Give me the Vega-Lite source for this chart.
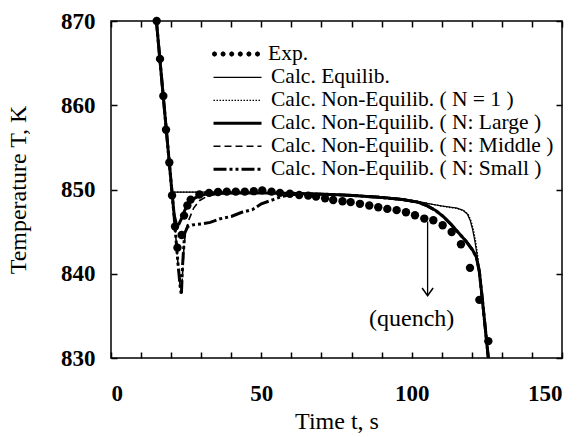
{
  "$schema": "https://vega.github.io/schema/vega-lite/v6.json",
  "width": 451,
  "height": 337,
  "autosize": "none",
  "padding": {"left": 111, "top": 21, "right": 20, "bottom": 79},
  "background": "white",
  "config": {
    "view": {"stroke": "black", "strokeWidth": 1.5},
    "font": "Liberation Serif",
    "axis": {
      "domain": false, "grid": false, "tickColor": "black", "tickWidth": 1.5, "tickSize": -6,
      "labelFont": "Liberation Serif", "labelFontWeight": "bold", "labelFontSize": 23, "labelColor": "black",
      "titleFont": "Liberation Serif", "titleFontWeight": "normal", "titleFontSize": 24, "titleColor": "black"
    },
    "legend": {
      "orient": "none", "legendX": 101, "padding": 0, "rowPadding": 1, "clipHeight": 20,
      "labelFont": "Liberation Serif", "labelFontSize": 21.5, "labelColor": "black", "labelLimit": 400,
      "symbolSize": 2304, "symbolOffset": 0, "labelOffset": 8, "title": null,
      "symbolFillColor": "black", "symbolStrokeColor": "black", "symbolOpacity": 1
    }
  },
  "datasets": {
    "calc": [
      {"series": "Calc. Equilib.", "t": 15.0, "T": 870.4},
      {"series": "Calc. Equilib.", "t": 20.3, "T": 849.7},
      {"series": "Calc. Equilib.", "t": 30, "T": 849.7},
      {"series": "Calc. Equilib.", "t": 45, "T": 849.65},
      {"series": "Calc. Equilib.", "t": 60, "T": 849.6},
      {"series": "Calc. Equilib.", "t": 70, "T": 849.5},
      {"series": "Calc. Equilib.", "t": 80, "T": 849.35},
      {"series": "Calc. Equilib.", "t": 90, "T": 849.15},
      {"series": "Calc. Equilib.", "t": 97, "T": 848.9},
      {"series": "Calc. Equilib.", "t": 102, "T": 848.6},
      {"series": "Calc. Equilib.", "t": 106, "T": 848.3},
      {"series": "Calc. Equilib.", "t": 109, "T": 848.1},
      {"series": "Calc. Equilib.", "t": 112, "T": 847.95},
      {"series": "Calc. Equilib.", "t": 115, "T": 847.8},
      {"series": "Calc. Equilib.", "t": 117, "T": 847.55},
      {"series": "Calc. Equilib.", "t": 118.5, "T": 847.1},
      {"series": "Calc. Equilib.", "t": 119.5, "T": 846.3},
      {"series": "Calc. Equilib.", "t": 120.3, "T": 845.2},
      {"series": "Calc. Equilib.", "t": 121, "T": 843.9},
      {"series": "Calc. Equilib.", "t": 121.7, "T": 842.4},
      {"series": "Calc. Equilib.", "t": 122.3, "T": 840.3},
      {"series": "Calc. Equilib.", "t": 123.3, "T": 837},
      {"series": "Calc. Equilib.", "t": 124.3, "T": 833.5},
      {"series": "Calc. Equilib.", "t": 125.3, "T": 830},
      {"series": "Calc. Equilib.", "t": 125.8, "T": 828.3},
      {"series": "Calc. Non-Equilib. ( N = 1 )", "t": 15.0, "T": 870.4},
      {"series": "Calc. Non-Equilib. ( N = 1 )", "t": 20.3, "T": 849.7},
      {"series": "Calc. Non-Equilib. ( N = 1 )", "t": 30, "T": 849.7},
      {"series": "Calc. Non-Equilib. ( N = 1 )", "t": 45, "T": 849.65},
      {"series": "Calc. Non-Equilib. ( N = 1 )", "t": 60, "T": 849.6},
      {"series": "Calc. Non-Equilib. ( N = 1 )", "t": 70, "T": 849.5},
      {"series": "Calc. Non-Equilib. ( N = 1 )", "t": 80, "T": 849.35},
      {"series": "Calc. Non-Equilib. ( N = 1 )", "t": 90, "T": 849.15},
      {"series": "Calc. Non-Equilib. ( N = 1 )", "t": 97, "T": 848.9},
      {"series": "Calc. Non-Equilib. ( N = 1 )", "t": 102, "T": 848.6},
      {"series": "Calc. Non-Equilib. ( N = 1 )", "t": 106, "T": 848.3},
      {"series": "Calc. Non-Equilib. ( N = 1 )", "t": 109, "T": 848.1},
      {"series": "Calc. Non-Equilib. ( N = 1 )", "t": 112, "T": 847.9},
      {"series": "Calc. Non-Equilib. ( N = 1 )", "t": 115, "T": 847.75},
      {"series": "Calc. Non-Equilib. ( N = 1 )", "t": 117.3, "T": 847.5},
      {"series": "Calc. Non-Equilib. ( N = 1 )", "t": 118.8, "T": 847.05},
      {"series": "Calc. Non-Equilib. ( N = 1 )", "t": 119.8, "T": 846.2},
      {"series": "Calc. Non-Equilib. ( N = 1 )", "t": 120.6, "T": 845.1},
      {"series": "Calc. Non-Equilib. ( N = 1 )", "t": 121.3, "T": 843.8},
      {"series": "Calc. Non-Equilib. ( N = 1 )", "t": 121.9, "T": 842.3},
      {"series": "Calc. Non-Equilib. ( N = 1 )", "t": 122.5, "T": 840.2},
      {"series": "Calc. Non-Equilib. ( N = 1 )", "t": 123.4, "T": 837},
      {"series": "Calc. Non-Equilib. ( N = 1 )", "t": 124.4, "T": 833.5},
      {"series": "Calc. Non-Equilib. ( N = 1 )", "t": 125.4, "T": 830},
      {"series": "Calc. Non-Equilib. ( N = 1 )", "t": 125.9, "T": 828.3},
      {"series": "Calc. Non-Equilib. ( N: Large )", "t": 15.0, "T": 870.4},
      {"series": "Calc. Non-Equilib. ( N: Large )", "t": 20.2, "T": 850},
      {"series": "Calc. Non-Equilib. ( N: Large )", "t": 21, "T": 847},
      {"series": "Calc. Non-Equilib. ( N: Large )", "t": 21.8, "T": 845.8},
      {"series": "Calc. Non-Equilib. ( N: Large )", "t": 22.6, "T": 845.9},
      {"series": "Calc. Non-Equilib. ( N: Large )", "t": 23.5, "T": 846.6},
      {"series": "Calc. Non-Equilib. ( N: Large )", "t": 24.5, "T": 847.5},
      {"series": "Calc. Non-Equilib. ( N: Large )", "t": 25.5, "T": 848.2},
      {"series": "Calc. Non-Equilib. ( N: Large )", "t": 27, "T": 848.8},
      {"series": "Calc. Non-Equilib. ( N: Large )", "t": 29, "T": 849.2},
      {"series": "Calc. Non-Equilib. ( N: Large )", "t": 32, "T": 849.5},
      {"series": "Calc. Non-Equilib. ( N: Large )", "t": 40, "T": 849.6},
      {"series": "Calc. Non-Equilib. ( N: Large )", "t": 60, "T": 849.55},
      {"series": "Calc. Non-Equilib. ( N: Large )", "t": 70, "T": 849.45},
      {"series": "Calc. Non-Equilib. ( N: Large )", "t": 80, "T": 849.3},
      {"series": "Calc. Non-Equilib. ( N: Large )", "t": 90, "T": 849.05},
      {"series": "Calc. Non-Equilib. ( N: Large )", "t": 97, "T": 848.8},
      {"series": "Calc. Non-Equilib. ( N: Large )", "t": 102, "T": 848.5},
      {"series": "Calc. Non-Equilib. ( N: Large )", "t": 105, "T": 848.1},
      {"series": "Calc. Non-Equilib. ( N: Large )", "t": 108, "T": 847.5},
      {"series": "Calc. Non-Equilib. ( N: Large )", "t": 110.5, "T": 846.8},
      {"series": "Calc. Non-Equilib. ( N: Large )", "t": 113, "T": 845.9},
      {"series": "Calc. Non-Equilib. ( N: Large )", "t": 115.5, "T": 844.9},
      {"series": "Calc. Non-Equilib. ( N: Large )", "t": 118, "T": 843.9},
      {"series": "Calc. Non-Equilib. ( N: Large )", "t": 120.3, "T": 842.8},
      {"series": "Calc. Non-Equilib. ( N: Large )", "t": 121.5, "T": 842},
      {"series": "Calc. Non-Equilib. ( N: Large )", "t": 122.5, "T": 840.3},
      {"series": "Calc. Non-Equilib. ( N: Large )", "t": 123.5, "T": 837},
      {"series": "Calc. Non-Equilib. ( N: Large )", "t": 124.5, "T": 833.5},
      {"series": "Calc. Non-Equilib. ( N: Large )", "t": 125.5, "T": 830},
      {"series": "Calc. Non-Equilib. ( N: Large )", "t": 126, "T": 828.3},
      {"series": "Calc. Non-Equilib. ( N: Middle )", "t": 15.0, "T": 870.4},
      {"series": "Calc. Non-Equilib. ( N: Middle )", "t": 20.2, "T": 850},
      {"series": "Calc. Non-Equilib. ( N: Middle )", "t": 21.2, "T": 846},
      {"series": "Calc. Non-Equilib. ( N: Middle )", "t": 22.2, "T": 841.5},
      {"series": "Calc. Non-Equilib. ( N: Middle )", "t": 23, "T": 838.5},
      {"series": "Calc. Non-Equilib. ( N: Middle )", "t": 23.4, "T": 837.6},
      {"series": "Calc. Non-Equilib. ( N: Middle )", "t": 23.8, "T": 840},
      {"series": "Calc. Non-Equilib. ( N: Middle )", "t": 24.3, "T": 843.5},
      {"series": "Calc. Non-Equilib. ( N: Middle )", "t": 25, "T": 845.3},
      {"series": "Calc. Non-Equilib. ( N: Middle )", "t": 26, "T": 846.5},
      {"series": "Calc. Non-Equilib. ( N: Middle )", "t": 27.5, "T": 847.8},
      {"series": "Calc. Non-Equilib. ( N: Middle )", "t": 29.5, "T": 848.7},
      {"series": "Calc. Non-Equilib. ( N: Middle )", "t": 32, "T": 849.2},
      {"series": "Calc. Non-Equilib. ( N: Middle )", "t": 36, "T": 849.5},
      {"series": "Calc. Non-Equilib. ( N: Middle )", "t": 45, "T": 849.6},
      {"series": "Calc. Non-Equilib. ( N: Middle )", "t": 60, "T": 849.55},
      {"series": "Calc. Non-Equilib. ( N: Middle )", "t": 70, "T": 849.45},
      {"series": "Calc. Non-Equilib. ( N: Middle )", "t": 80, "T": 849.3},
      {"series": "Calc. Non-Equilib. ( N: Middle )", "t": 90, "T": 849.05},
      {"series": "Calc. Non-Equilib. ( N: Middle )", "t": 97, "T": 848.8},
      {"series": "Calc. Non-Equilib. ( N: Middle )", "t": 102, "T": 848.5},
      {"series": "Calc. Non-Equilib. ( N: Middle )", "t": 105, "T": 848.1},
      {"series": "Calc. Non-Equilib. ( N: Middle )", "t": 108, "T": 847.5},
      {"series": "Calc. Non-Equilib. ( N: Middle )", "t": 110.5, "T": 846.8},
      {"series": "Calc. Non-Equilib. ( N: Middle )", "t": 113, "T": 845.9},
      {"series": "Calc. Non-Equilib. ( N: Middle )", "t": 115.5, "T": 844.9},
      {"series": "Calc. Non-Equilib. ( N: Middle )", "t": 118, "T": 843.9},
      {"series": "Calc. Non-Equilib. ( N: Middle )", "t": 120.3, "T": 842.8},
      {"series": "Calc. Non-Equilib. ( N: Middle )", "t": 121.5, "T": 842},
      {"series": "Calc. Non-Equilib. ( N: Middle )", "t": 122.5, "T": 840.3},
      {"series": "Calc. Non-Equilib. ( N: Middle )", "t": 123.5, "T": 837},
      {"series": "Calc. Non-Equilib. ( N: Middle )", "t": 124.5, "T": 833.5},
      {"series": "Calc. Non-Equilib. ( N: Middle )", "t": 125.5, "T": 830},
      {"series": "Calc. Non-Equilib. ( N: Middle )", "t": 126, "T": 828.3},
      {"series": "Calc. Non-Equilib. ( N: Small )", "t": 15.0, "T": 870.4},
      {"series": "Calc. Non-Equilib. ( N: Small )", "t": 20.2, "T": 850},
      {"series": "Calc. Non-Equilib. ( N: Small )", "t": 21.2, "T": 846},
      {"series": "Calc. Non-Equilib. ( N: Small )", "t": 22.2, "T": 841.5},
      {"series": "Calc. Non-Equilib. ( N: Small )", "t": 23, "T": 838.5},
      {"series": "Calc. Non-Equilib. ( N: Small )", "t": 23.4, "T": 837.5},
      {"series": "Calc. Non-Equilib. ( N: Small )", "t": 23.8, "T": 841},
      {"series": "Calc. Non-Equilib. ( N: Small )", "t": 24.5, "T": 844.8},
      {"series": "Calc. Non-Equilib. ( N: Small )", "t": 25.5, "T": 845.6},
      {"series": "Calc. Non-Equilib. ( N: Small )", "t": 27, "T": 845.8},
      {"series": "Calc. Non-Equilib. ( N: Small )", "t": 30, "T": 845.9},
      {"series": "Calc. Non-Equilib. ( N: Small )", "t": 33, "T": 846.1},
      {"series": "Calc. Non-Equilib. ( N: Small )", "t": 36, "T": 846.5},
      {"series": "Calc. Non-Equilib. ( N: Small )", "t": 40, "T": 846.8},
      {"series": "Calc. Non-Equilib. ( N: Small )", "t": 43.5, "T": 847.3},
      {"series": "Calc. Non-Equilib. ( N: Small )", "t": 47, "T": 847.6},
      {"series": "Calc. Non-Equilib. ( N: Small )", "t": 50, "T": 848.3},
      {"series": "Calc. Non-Equilib. ( N: Small )", "t": 54, "T": 848.8},
      {"series": "Calc. Non-Equilib. ( N: Small )", "t": 57, "T": 849.2},
      {"series": "Calc. Non-Equilib. ( N: Small )", "t": 60, "T": 849.4},
      {"series": "Calc. Non-Equilib. ( N: Small )", "t": 70, "T": 849.45},
      {"series": "Calc. Non-Equilib. ( N: Small )", "t": 80, "T": 849.3},
      {"series": "Calc. Non-Equilib. ( N: Small )", "t": 90, "T": 849.05},
      {"series": "Calc. Non-Equilib. ( N: Small )", "t": 97, "T": 848.8},
      {"series": "Calc. Non-Equilib. ( N: Small )", "t": 102, "T": 848.5},
      {"series": "Calc. Non-Equilib. ( N: Small )", "t": 105, "T": 848.1},
      {"series": "Calc. Non-Equilib. ( N: Small )", "t": 108, "T": 847.5},
      {"series": "Calc. Non-Equilib. ( N: Small )", "t": 110.5, "T": 846.8},
      {"series": "Calc. Non-Equilib. ( N: Small )", "t": 113, "T": 845.9},
      {"series": "Calc. Non-Equilib. ( N: Small )", "t": 115.5, "T": 844.9},
      {"series": "Calc. Non-Equilib. ( N: Small )", "t": 118, "T": 843.9},
      {"series": "Calc. Non-Equilib. ( N: Small )", "t": 120.3, "T": 842.8},
      {"series": "Calc. Non-Equilib. ( N: Small )", "t": 121.5, "T": 842},
      {"series": "Calc. Non-Equilib. ( N: Small )", "t": 122.5, "T": 840.3},
      {"series": "Calc. Non-Equilib. ( N: Small )", "t": 123.5, "T": 837},
      {"series": "Calc. Non-Equilib. ( N: Small )", "t": 124.5, "T": 833.5},
      {"series": "Calc. Non-Equilib. ( N: Small )", "t": 125.5, "T": 830},
      {"series": "Calc. Non-Equilib. ( N: Small )", "t": 126, "T": 828.3}
    ],
    "exp": [
      {"t": 15.2, "T": 870}, {"t": 16.3, "T": 865.5}, {"t": 17.4, "T": 861.1}, {"t": 18.3, "T": 857.1},
      {"t": 19.4, "T": 853.2}, {"t": 20.3, "T": 849.3}, {"t": 21.3, "T": 845.6}, {"t": 22.1, "T": 843.1},
      {"t": 23.5, "T": 844.6}, {"t": 24.3, "T": 846.9}, {"t": 25.4, "T": 848.1}, {"t": 26.5, "T": 848.8},
      {"t": 29.4, "T": 849.4}, {"t": 32.6, "T": 849.6}, {"t": 35.6, "T": 849.7}, {"t": 38.5, "T": 849.75},
      {"t": 41.5, "T": 849.75}, {"t": 44.5, "T": 849.75}, {"t": 47.5, "T": 849.8}, {"t": 50.3, "T": 849.9},
      {"t": 53.4, "T": 849.75}, {"t": 56.2, "T": 849.6}, {"t": 59.5, "T": 849.5}, {"t": 62.6, "T": 849.35},
      {"t": 65.6, "T": 849.27}, {"t": 68.2, "T": 849.15}, {"t": 71.2, "T": 848.95}, {"t": 73.9, "T": 848.75},
      {"t": 77.0, "T": 848.6}, {"t": 79.7, "T": 848.5}, {"t": 82.8, "T": 848.3}, {"t": 85.9, "T": 848.1},
      {"t": 88.9, "T": 847.9}, {"t": 91.9, "T": 847.7}, {"t": 95.0, "T": 847.55}, {"t": 98.1, "T": 847.3},
      {"t": 101.1, "T": 846.95}, {"t": 104.2, "T": 846.55}, {"t": 107.2, "T": 846.35}, {"t": 110.3, "T": 845.75},
      {"t": 113.3, "T": 844.95}, {"t": 116.4, "T": 843.5}, {"t": 119.4, "T": 840.7}, {"t": 122.5, "T": 836.9},
      {"t": 125.5, "T": 832.0}
    ],
    "expKey": [{"kind": "Exp."}],
    "arrow": [{"t": 105.3, "T0": 846.2, "T1": 837.4}],
    "note": [{"t": 100, "T": 834.6, "label": "(quench)"}]
  },
  "resolve": {"axis": {"x": "independent", "y": "independent"}},
  "layer": [
    {
      "data": {"name": "expKey"},
      "mark": {"type": "point", "opacity": 0, "filled": true, "color": "black"},
      "encoding": {
        "shape": {
          "field": "kind", "type": "nominal",
          "scale": {
            "domain": ["Exp."],
            "range": [
              "M-0.786,0L-0.818,0.078L-0.896,0.11L-0.974,0.078L-1.006,0L-0.974,-0.078L-0.896,-0.11L-0.818,-0.078ZM-0.428,0L-0.46,0.078L-0.538,0.11L-0.616,0.078L-0.648,0L-0.616,-0.078L-0.538,-0.11L-0.46,-0.078ZM-0.069,0L-0.101,0.078L-0.179,0.11L-0.257,0.078L-0.289,0L-0.257,-0.078L-0.179,-0.11L-0.101,-0.078ZM0.289,0L0.257,0.078L0.179,0.11L0.101,0.078L0.069,0L0.101,-0.078L0.179,-0.11L0.257,-0.078ZM0.648,0L0.616,0.078L0.538,0.11L0.46,0.078L0.428,0L0.46,-0.078L0.538,-0.11L0.616,-0.078ZM1.006,0L0.974,0.078L0.896,0.11L0.818,0.078L0.786,0L0.818,-0.078L0.896,-0.11L0.974,-0.078Z"
            ]
          },
          "legend": {"legendX": 101, "legendY": 23, "symbolOpacity": 1, "symbolFillColor": "black", "symbolStrokeColor": "black", "symbolStrokeWidth": 0}
        }
      }
    },
    {
      "data": {"name": "calc"},
      "mark": {"type": "line", "color": "black", "clip": true},
      "encoding": {
        "x": {"field": "t", "type": "quantitative", "scale": {"domain": [0, 150], "nice": false},
              "axis": {"orient": "top", "values": [0,10,20,30,40,50,60,70,80,90,100,110,120,130,140,150], "labels": false, "title": null}},
        "y": {"field": "T", "type": "quantitative", "scale": {"domain": [830, 870], "nice": false, "zero": false},
              "axis": {"orient": "right", "values": [830,840,850,860,870], "labels": false, "title": null}},
        "strokeDash": {
          "field": "series", "type": "nominal",
          "scale": {
            "domain": ["Calc. Equilib.", "Calc. Non-Equilib. ( N = 1 )", "Calc. Non-Equilib. ( N: Large )", "Calc. Non-Equilib. ( N: Middle )", "Calc. Non-Equilib. ( N: Small )"],
            "range": [[1, 0], [1.5, 1.5], [1, 0], [7, 4], [13, 3, 3, 3, 3, 3]]
          },
          "legend": {"legendX": 101, "legendY": 46.3, "symbolType": "M-1,0L1,0", "symbolOpacity": 1, "symbolStrokeColor": "black", "symbolFillColor": "transparent"}
        },
        "strokeWidth": {
          "field": "series", "type": "nominal",
          "scale": {
            "type": "ordinal",
            "domain": ["Calc. Equilib.", "Calc. Non-Equilib. ( N = 1 )", "Calc. Non-Equilib. ( N: Large )", "Calc. Non-Equilib. ( N: Middle )", "Calc. Non-Equilib. ( N: Small )"],
            "range": [1.2, 1.3, 3, 1.6, 3]
          },
          "legend": {"legendX": 101, "legendY": 46.3, "symbolType": "M-1,0L1,0", "symbolOpacity": 1, "symbolStrokeColor": "black", "symbolFillColor": "transparent"}
        }
      }
    },
    {
      "data": {"name": "exp"},
      "mark": {"type": "point", "filled": true, "color": "black", "size": 70, "opacity": 1},
      "encoding": {
        "x": {"field": "t", "type": "quantitative",
              "axis": {"orient": "bottom", "values": [0,10,20,30,40,50,60,70,80,90,100,110,120,130,140,150],
                       "labelExpr": "datum.value % 50 === 0 ? datum.label : ''", "labelPadding": 30, "title": "Time t, s", "titlePadding": 4}},
        "y": {"field": "T", "type": "quantitative",
              "axis": {"orient": "left", "values": [830,840,850,860,870], "labelPadding": 22, "title": "Temperature T, K", "titlePadding": 30}}
      }
    },
    {
      "data": {"name": "arrow"},
      "mark": {"type": "rule", "color": "black", "strokeWidth": 1.3},
      "encoding": {
        "x": {"field": "t", "type": "quantitative", "axis": null},
        "y": {"field": "T0", "type": "quantitative", "axis": null},
        "y2": {"field": "T1"}
      }
    },
    {
      "data": {"name": "arrow"},
      "mark": {"type": "point", "filled": false, "color": "black", "strokeWidth": 1.5, "size": 121, "opacity": 1,
               "shape": "M-1,-1.4L0,0L1,-1.4"},
      "encoding": {
        "x": {"field": "t", "type": "quantitative", "axis": null},
        "y": {"field": "T1", "type": "quantitative", "axis": null}
      }
    },
    {
      "data": {"name": "note"},
      "mark": {"type": "text", "font": "Liberation Serif", "fontSize": 24, "color": "black", "align": "center", "baseline": "middle"},
      "encoding": {
        "x": {"field": "t", "type": "quantitative", "axis": null},
        "y": {"field": "T", "type": "quantitative", "axis": null},
        "text": {"field": "label"}
      }
    }
  ]
}
